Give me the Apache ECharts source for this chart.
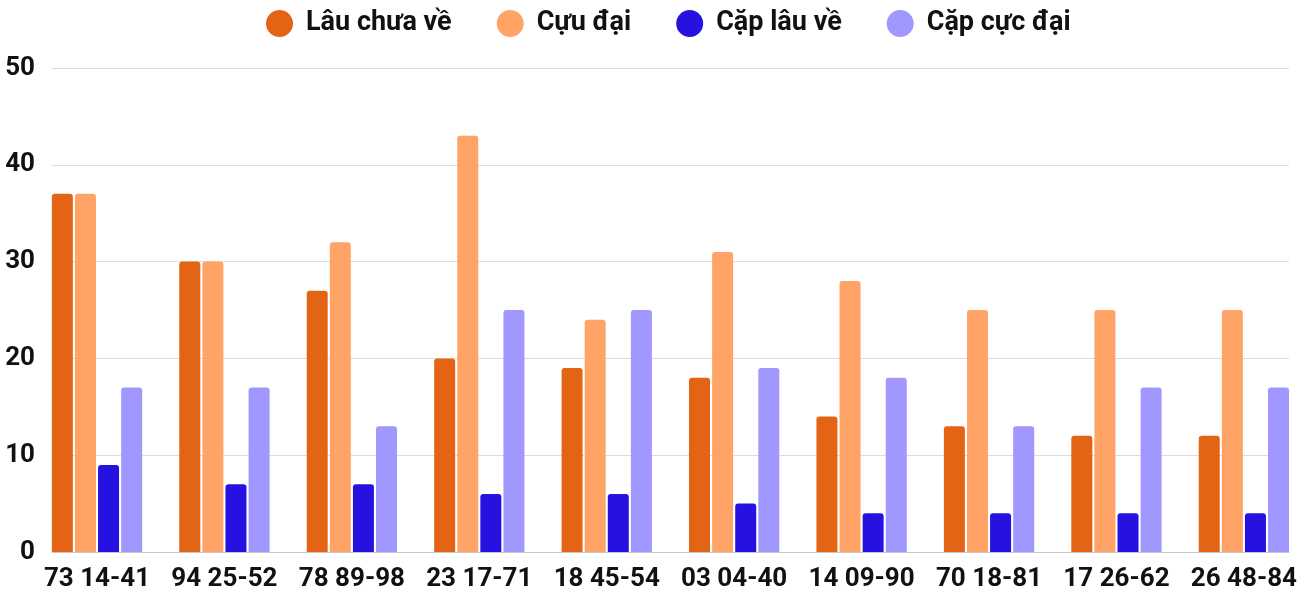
<!DOCTYPE html>
<html>
<head>
<meta charset="utf-8">
<script src="https://cdn.jsdelivr.net/npm/echarts@6/dist/echarts.min.js"></script>
<style>html,body{margin:0;padding:0;background:#fff}#c{width:1300px;height:600px}</style>
</head>
<body>
<div id="c"></div>
<script>
const categories = ['73 14-41','94 25-52','78 89-98','23 17-71','18 45-54','03 04-40','14 09-90','70 18-81','17 26-62','26 48-84'];
const lauChuaVe = [37,30,27,20,19,18,14,13,12,12];
const cuuDai = [37,30,32,43,24,31,28,25,25,25];
const capLauVe = [9,7,7,6,6,5,4,4,4,4];
const capCucDai = [17,17,13,25,25,19,18,13,17,17];
const seriesNames = ['Lâu chưa về','Cựu đại','Cặp lâu về','Cặp cực đại'];
const colors = ['#E36414','#FFA466','#2612E0','#A097FF'];
const yTicks = [0,10,20,30,40,50];

const chart = echarts.init(document.getElementById('c'));
const font = 'Roboto, "Noto Sans", sans-serif';
const dataSets = [lauChuaVe, cuuDai, capLauVe, capCucDai];
chart.setOption({
  animation:false,
  color: colors,
  legend:{
    top:5, left:261, icon:'circle', itemWidth:27, itemHeight:27, itemGap:45,
    textStyle:{fontFamily:font, fontWeight:'bold', fontSize:27, color:'#111', padding:[0,0,0,8]},
    data: seriesNames
  },
  grid:[
    {left:97, right:56, top:68, bottom:48, containLabel:false},
    {left:52, right:11, top:68, bottom:48, containLabel:false}
  ],
  xAxis:[
    {type:'category', gridIndex:0, data:categories, boundaryGap:false, axisLine:{show:false}, axisTick:{show:false},
     axisLabel:{fontFamily:font, fontWeight:'bold', fontSize:26, color:'#111', margin:14, interval:0}},
    {type:'value', gridIndex:1, min:0, max:1, axisLine:{show:true, lineStyle:{color:'#c8c8c8', width:1}},
     axisTick:{show:false}, axisLabel:{show:false}, splitLine:{show:false}}
  ],
  yAxis:[
    {type:'value', gridIndex:0, min:0, max:50, interval:10, show:false},
    {type:'value', gridIndex:1, min:0, max:50, interval:10,
     axisLine:{show:false}, axisTick:{show:false},
     axisLabel:{fontFamily:font, fontWeight:'bold', fontSize:26, color:'#111', margin:17,
       formatter: v => yTicks.includes(v) ? String(v) : ''},
     splitLine:{lineStyle:{color:'#dcdcdc', width:1}}}
  ],
  series: dataSets.map((d,i)=>({
    name: seriesNames[i], type:'bar', xAxisIndex:0, yAxisIndex:0, data:d,
    barWidth:21, barGap:'10%',
    itemStyle:{color:colors[i], borderRadius:[3,3,0,0]}
  }))
});
</script>
</body>
</html>
